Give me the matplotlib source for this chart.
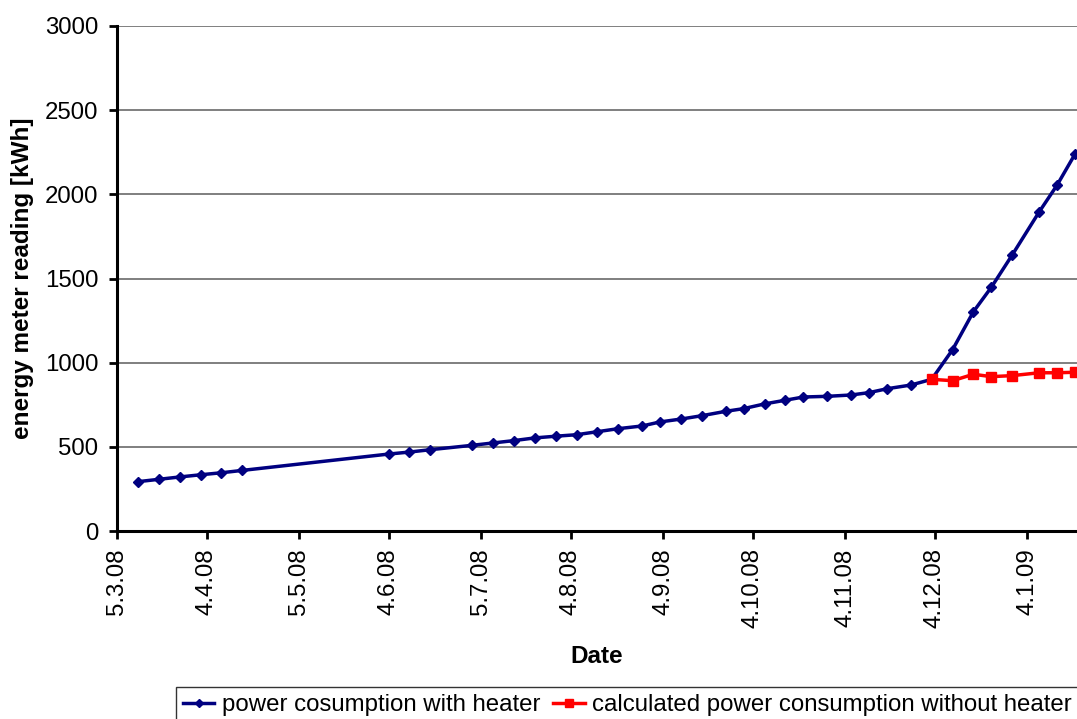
import pandas as pd
import matplotlib
matplotlib.use("Agg")
import matplotlib.pyplot as plt

plt.rcParams['font.family'] = ['Liberation Sans', 'DejaVu Sans']

# readings with heater (date, kWh)
heater_dates = ["12.3.08", "19.3.08", "26.3.08", "2.4.08", "9.4.08", "16.4.08",
                "4.6.08", "11.6.08", "18.6.08", "2.7.08", "9.7.08", "16.7.08",
                "23.7.08", "30.7.08", "6.8.08", "13.8.08", "20.8.08", "28.8.08",
                "3.9.08", "10.9.08", "17.9.08", "25.9.08", "1.10.08", "8.10.08",
                "15.10.08", "21.10.08", "29.10.08", "6.11.08", "12.11.08", "18.11.08",
                "26.11.08", "3.12.08", "10.12.08", "17.12.08", "23.12.08", "30.12.08",
                "8.1.09", "14.1.09", "20.1.09"]
heater_kwh = [293, 307, 321, 334, 346, 360,
              457, 469, 483, 509, 523, 537,
              553, 563, 572, 590, 608, 624,
              648, 665, 685, 711, 727, 755,
              777, 796, 800, 808, 822, 845,
              867, 901, 1077, 1303, 1448, 1640,
              1895, 2054, 2238]

# calculated without heater
noheat_dates = ["3.12.08", "10.12.08", "17.12.08", "23.12.08", "30.12.08",
                "8.1.09", "14.1.09", "20.1.09"]
noheat_kwh = [901, 893, 931, 917, 923, 940, 940, 943]

tick_dates = ["5.3.08", "4.4.08", "5.5.08", "4.6.08", "5.7.08", "4.8.08",
              "4.9.08", "4.10.08", "4.11.08", "4.12.08", "4.1.09"]


def to_dt(lst):
    return pd.to_datetime(lst, format="%d.%m.%y")


fig = plt.figure(figsize=(10.77, 7.19), dpi=100)
ax = fig.add_axes([117 / 1077, 1 - 531 / 719, 1 - 117 / 1077, (531 - 26) / 719])

ax.plot(to_dt(heater_dates), heater_kwh, color='#000080', lw=2.5, marker='D',
        ms=5, label='power cosumption with heater', zorder=3)
ax.plot(to_dt(noheat_dates), noheat_kwh, color='#FF0000', lw=2.5, marker='s',
        ms=7, label='calculated power consumption without heater', zorder=4)

start = to_dt(["5.3.08"])[0]
ax.set_xlim(start, start + pd.Timedelta(days=321.7))
ax.set_ylim(0, 3000)
ax.set_yticks(range(0, 3001, 500))
ax.set_xticks(to_dt(tick_dates))
ax.set_xticklabels(tick_dates, rotation=90)

ax.yaxis.grid(True, color='#6a6a6a', lw=1.2)
ax.set_axisbelow(True)
for s in ['top', 'right']:
    ax.spines[s].set_visible(False)
for s in ['left', 'bottom']:
    ax.spines[s].set_linewidth(2.2)
ax.tick_params(axis='both', labelsize=17.3, width=2, length=5.5, direction='out')
ax.tick_params(axis='x', pad=7)
ax.tick_params(axis='y', pad=8)

ax.set_ylabel('energy meter reading [kWh]', fontsize=17.5, fontweight='bold', labelpad=8)
ax.set_xlabel('Date', fontsize=17.5, fontweight='bold', labelpad=12)

# legend sits at the bottom edge, partly cut off like in the original
leg = fig.legend(loc='upper left', bbox_to_anchor=(176 / 1077, 1 - 687 / 719),
                 ncol=2, fontsize=17.3, frameon=True, fancybox=False,
                 edgecolor='black', handlelength=1.3, handletextpad=0.3,
                 columnspacing=0.55, borderpad=0.3, borderaxespad=0,
                 markerscale=0.9)
leg.get_frame().set_linewidth(1.0)

fig.savefig('out.png', dpi=100)
